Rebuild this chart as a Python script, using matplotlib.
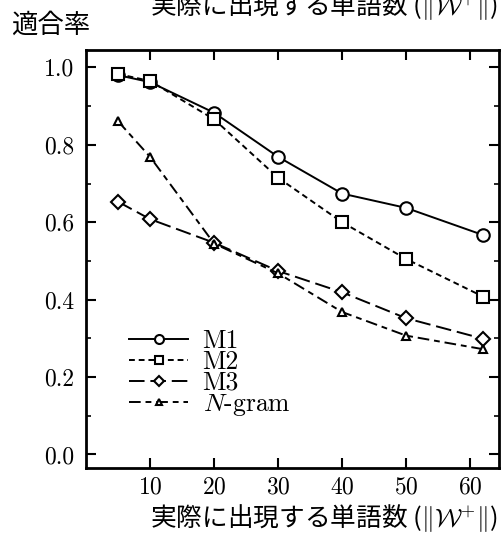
import matplotlib

matplotlib.use("Agg")
import matplotlib.pyplot as plt
from matplotlib.ticker import MultipleLocator

plt.rcParams["font.family"] = ["cmr10", "Noto Sans CJK JP", "DejaVu Sans"]
plt.rcParams["mathtext.fontset"] = "cm"
plt.rcParams["axes.formatter.use_mathtext"] = True

words = [5, 10, 20, 30, 40, 50, 62]
m1 = [0.98, 0.962, 0.883, 0.769, 0.674, 0.637, 0.567]
m2 = [0.983, 0.965, 0.866, 0.715, 0.600, 0.505, 0.408]
m3 = [0.653, 0.608, 0.547, 0.474, 0.419, 0.352, 0.299]
ngram = [0.861, 0.769, 0.545, 0.468, 0.368, 0.307, 0.272]
labels = ["M1", "M2", "M3", "$N$-gram"]
xticks = [10, 20, 30, 40, 50, 60]
yticks = [0.0, 0.2, 0.4, 0.6, 0.8, 1.0]
xlabel = r"実際に出現する単語数 ($\|\mathcal{W}^{+}\|$)"
ylabel = "適合率"

fig = plt.figure(figsize=(5.02, 5.33), dpi=100)
ax = fig.add_axes([86 / 502, 65 / 533, 413 / 502, 418 / 533])

styles = [
    dict(linestyle="-", marker="o", markersize=9),
    dict(linestyle=(0, (3, 2)), marker="s", markersize=8),
    dict(linestyle=(0, (8, 3)), marker="D", markersize=7.5),
    dict(linestyle=(0, (6, 2.5, 3, 2.5)), marker="^", markersize=6),
]
for ys, lab, st in zip([m1, m2, m3, ngram], labels, styles):
    ax.plot(words, ys, color="black", linewidth=1.4, markerfacecolor="white",
            markeredgecolor="black", markeredgewidth=1.5, label=lab, **st)

ax.set_xlim(0, 64.5)
ax.set_ylim(-0.035, 1.045)
ax.set_xticks(xticks)
ax.set_yticks(yticks)
ax.set_yticklabels([f"{v:.1f}" for v in yticks])
ax.yaxis.set_minor_locator(MultipleLocator(0.1))
ax.tick_params(which="major", direction="in", length=7, width=1.5, labelsize=17,
               top=True, right=True)
ax.tick_params(axis="y", which="major", pad=8.5)
ax.tick_params(axis="x", which="major", pad=6)
ax.tick_params(which="minor", direction="in", length=3.5, width=1.2, right=True)
for sp in ax.spines.values():
    sp.set_linewidth(2)

ax.legend(loc="upper left", bbox_to_anchor=(0.105, 0.333), frameon=False,
          fontsize=18.5, handlelength=2.3, handletextpad=0.55, labelspacing=-0.1,
          markerscale=0.72, borderpad=0, borderaxespad=0)

cjk = ["Noto Sans CJK JP", "DejaVu Sans"]
fig.text(324 / 502, 1 - 518 / 533, xlabel, ha="center", va="center",
         fontsize=18.5, family=cjk)
fig.text(324 / 502, 1 - 6 / 533, xlabel, ha="center", va="center",
         fontsize=18.5, family=cjk)
fig.text(11 / 502, 1 - 25 / 533, ylabel, ha="left", va="center",
         fontsize=19, family=cjk)

fig.savefig("out.png", dpi=100)
